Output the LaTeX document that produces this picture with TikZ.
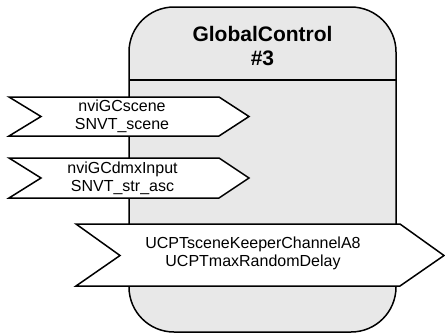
\documentclass[tikz,border=0pt]{standalone}
\usepackage{fontspec}
\setmainfont{Liberation Sans}
\definecolor{blockgray}{RGB}{232,232,232}
\begin{document}
\begin{tikzpicture}[x=1pt,y=-1pt,
  block/.style={draw=black, line width=1.5pt, fill=blockgray, rounded corners=45pt},
  divider/.style={draw=black, line width=1.5pt},
  port/.style={draw=black, line width=1.5pt, fill=white, line join=miter},
  lbl/.style={font=\fontsize{16}{18}\selectfont, align=center, inner sep=0pt},
  ttl/.style={font=\bfseries\fontsize{21}{24}\selectfont, align=center, inner sep=0pt}]
\useasboundingbox (0,0) rectangle (445,333);

% function block body with header divider
\draw[block] (129,7) rectangle (396,332);
\draw[divider] (129,80) -- (396,80);
\node[ttl] (title) at (262.5,46) {GlobalControl\\\#3};

% input network variables
\draw[port] (9,97) -- (219,97) -- (249,116.5) -- (219,136) -- (9,136) -- (41,116.5) -- cycle;
\node[lbl] (in1) at (122,116.5) {nviGCscene\\SNVT\_scene};

\draw[port] (9,158) -- (219,158) -- (249,178) -- (219,198) -- (9,198) -- (41,178) -- cycle;
\node[lbl] (in2) at (122.5,178) {nviGCdmxInput\\SNVT\_str\_asc};

% configuration properties
\draw[port] (76,224) -- (400,224) -- (444,255.5) -- (400,286) -- (76,286) -- (120,255.5) -- cycle;
\node[lbl] (prop) at (253,253) {UCPTsceneKeeperChannelA8\\UCPTmaxRandomDelay};
\end{tikzpicture}
\end{document}
